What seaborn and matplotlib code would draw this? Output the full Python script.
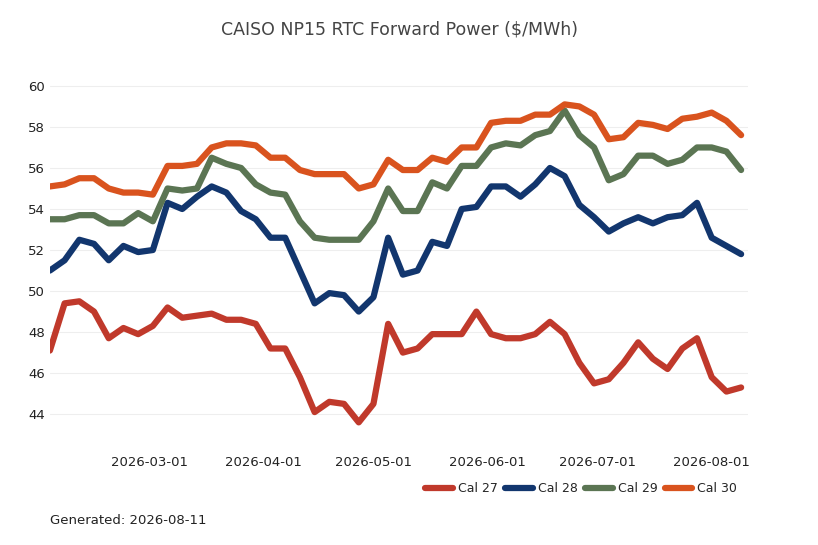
import pandas as pd
import matplotlib.pyplot as plt
import matplotlib.dates as mdates
import seaborn as sns

# CAISO NP15 RTC forward curves, sampled every 4 days
dates = pd.date_range("2026-02-02", periods=48, freq="4D")

cal27 = [47.1, 49.4, 49.5, 49.0, 47.7, 48.2, 47.9, 48.3, 49.2, 48.7, 48.8, 48.9,
         48.6, 48.6, 48.4, 47.2, 47.2, 45.8, 44.1, 44.6, 44.5, 43.6, 44.5, 48.4,
         47.0, 47.2, 47.9, 47.9, 47.9, 49.0, 47.9, 47.7, 47.7, 47.9, 48.5, 47.9,
         46.5, 45.5, 45.7, 46.5, 47.5, 46.7, 46.2, 47.2, 47.7, 45.8, 45.1, 45.3]
cal28 = [51.0, 51.5, 52.5, 52.3, 51.5, 52.2, 51.9, 52.0, 54.3, 54.0, 54.6, 55.1,
         54.8, 53.9, 53.5, 52.6, 52.6, 51.0, 49.4, 49.9, 49.8, 49.0, 49.7, 52.6,
         50.8, 51.0, 52.4, 52.2, 54.0, 54.1, 55.1, 55.1, 54.6, 55.2, 56.0, 55.6,
         54.2, 53.6, 52.9, 53.3, 53.6, 53.3, 53.6, 53.7, 54.3, 52.6, 52.2, 51.8]
cal29 = [53.5, 53.5, 53.7, 53.7, 53.3, 53.3, 53.8, 53.4, 55.0, 54.9, 55.0, 56.5,
         56.2, 56.0, 55.2, 54.8, 54.7, 53.4, 52.6, 52.5, 52.5, 52.5, 53.4, 55.0,
         53.9, 53.9, 55.3, 55.0, 56.1, 56.1, 57.0, 57.2, 57.1, 57.6, 57.8, 58.8,
         57.6, 57.0, 55.4, 55.7, 56.6, 56.6, 56.2, 56.4, 57.0, 57.0, 56.8, 55.9]
cal30 = [55.1, 55.2, 55.5, 55.5, 55.0, 54.8, 54.8, 54.7, 56.1, 56.1, 56.2, 57.0,
         57.2, 57.2, 57.1, 56.5, 56.5, 55.9, 55.7, 55.7, 55.7, 55.0, 55.2, 56.4,
         55.9, 55.9, 56.5, 56.3, 57.0, 57.0, 58.2, 58.3, 58.3, 58.6, 58.6, 59.1,
         59.0, 58.6, 57.4, 57.5, 58.2, 58.1, 57.9, 58.4, 58.5, 58.7, 58.3, 57.6]

series = {"Cal 27": cal27, "Cal 28": cal28, "Cal 29": cal29, "Cal 30": cal30}
colors = ["#c0392b", "#12366e", "#5b7553", "#d9531e"]

df = pd.DataFrame({"Date": dates, **series}).melt(
    id_vars="Date", var_name="Contract", value_name="Price")

sns.set_theme(style="white")
fig, ax = plt.subplots(figsize=(8.18, 5.45), dpi=100)
fig.subplots_adjust(left=0.061, right=0.915, top=0.88, bottom=0.21)

sns.lineplot(data=df, x="Date", y="Price", hue="Contract", palette=colors,
             linewidth=4.5, ax=ax)

ax.set_xlim(pd.Timestamp("2026-02-02"), pd.Timestamp("2026-08-11"))
ax.set_ylim(43.2, 61.0)
ax.set_yticks([44, 46, 48, 50, 52, 54, 56, 58, 60])
ax.xaxis.set_major_locator(mdates.MonthLocator())
ax.xaxis.set_major_formatter(mdates.DateFormatter("%Y-%m-%d"))
ax.grid(axis="y", color="#eeeeee", linewidth=0.8)
ax.tick_params(axis="both", labelsize=9.5, colors="#222222", length=0)
ax.tick_params(axis="x", pad=18)
for s in ax.spines.values():
    s.set_visible(False)
ax.set_xlabel("")
ax.set_ylabel("")
ax.set_title("CAISO NP15 RTC Forward Power ($/MWh)", fontsize=12.5,
             color="#444444", pad=22)

ax.legend(loc="upper right", bbox_to_anchor=(1.0, -0.11), ncol=4, frameon=False,
          fontsize=9, handlelength=2.2, columnspacing=0.6, handletextpad=0.4)
fig.text(0.061, 0.038, "Generated: 2026-08-11", fontsize=9.5, color="#222222")

fig.savefig("out.png", dpi=100)
